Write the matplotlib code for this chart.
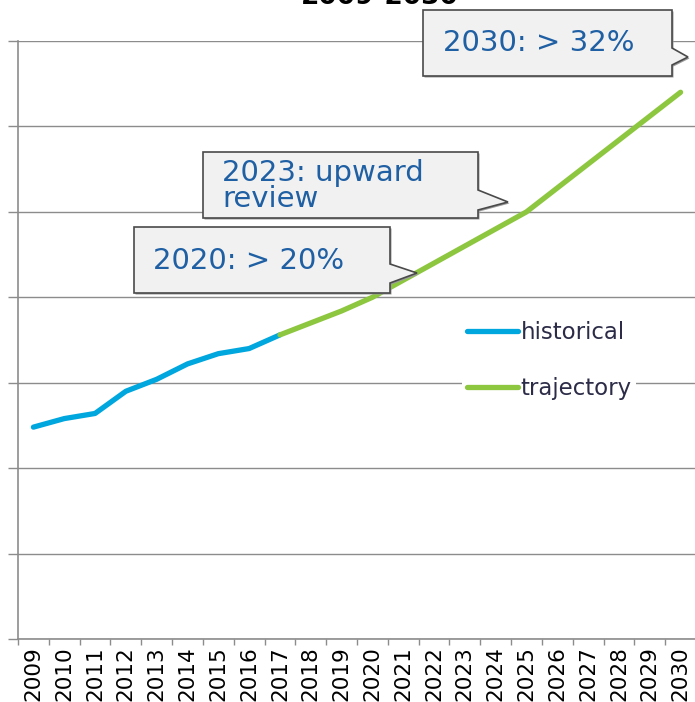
import matplotlib
matplotlib.use('Agg')
import matplotlib.pyplot as plt
import matplotlib.transforms as mtransforms
from matplotlib.patches import Polygon

# Datos
years = [str(y) for y in range(2009, 2031)]
hist_years = [str(y) for y in range(2009, 2018)]
hist_values = [12.4, 12.9, 13.2, 14.5, 15.2, 16.1, 16.7, 17.0, 17.8]
traj_years = [str(y) for y in range(2017, 2031)]
traj_values = [17.8, 18.5, 19.2, 20.0, 21.0, 22.0, 23.0, 24.0, 25.0,
               26.4, 27.8, 29.2, 30.6, 32.0]
callout_texts = ['2020: > 20%', '2023: upward\nreview', '2030: > 32%']

BLUE = '#00a6de'
GREEN = '#8dc63f'
TEXT_BLUE = '#1f5fa3'
GRID = '#8c8c8c'

W, H = 695, 702
fig = plt.figure(figsize=(W / 100, H / 100), dpi=100)
ax = fig.add_axes([18 / W, (H - 639) / H, 678 / W, 598 / H])

# transformacion en pixeles de la imagen (y hacia abajo)
px = mtransforms.Affine2D().scale(1 / W, -1 / H).translate(0, 1) + fig.transFigure

idx = {y: i for i, y in enumerate(years)}
ax.plot([idx[y] for y in hist_years], hist_values, color=BLUE, lw=3.8,
        solid_capstyle='round', label='historical', zorder=3)
ax.plot([idx[y] for y in traj_years], traj_values, color=GREEN, lw=3.8,
        solid_capstyle='round', label='trajectory', zorder=3)

ax.set_xlim(-0.5, len(years) - 0.5)
ax.set_ylim(0, 35)
ax.set_yticks(range(0, 36, 5))
ax.set_yticklabels([])
ax.yaxis.grid(True, color=GRID, lw=1.0)
ax.set_axisbelow(True)
ax.tick_params(axis='y', length=7.2, width=1.0, color=GRID, direction='out')

ax.set_xticks(range(len(years)))
ax.set_xticklabels(years, rotation=90, fontsize=15.5, color='black')
ax.set_xticks([i - 0.5 for i in range(len(years) + 1)], minor=True)
ax.tick_params(axis='x', which='major', length=0, pad=5)
ax.tick_params(axis='x', which='minor', length=4.5, width=1.0, color=GRID)

for s in ['top', 'right']:
    ax.spines[s].set_visible(False)
for s in ['left', 'bottom']:
    ax.spines[s].set_color(GRID)
    ax.spines[s].set_linewidth(1.2)

# Leyenda
leg = ax.legend(loc='upper left', bbox_to_anchor=(462, 316),
                bbox_transform=px, frameon=True, fontsize=16.5,
                handlelength=2.25, handletextpad=0.1, labelspacing=1.45,
                borderpad=0.2, borderaxespad=0)
leg.get_frame().set_facecolor('white')
leg.get_frame().set_edgecolor('none')
leg.get_frame().set_alpha(1)
for t in leg.get_texts():
    t.set_color('#2c2c48')

# Cajas de comentario (caja + punta)
boxes = [
    # x0, y0, x1, y1, punta arriba, punta abajo, punta x, punta y
    (134, 227, 390, 293, 264, 283, 417, 273),
    (203, 152, 478, 218, 190, 210, 508, 202),
    (423, 10, 672, 76, 48, 65, 688, 57),
]
text_pos = [(153, 261), (222, 186), (443, 43)]
for (x0, y0, x1, y1, pa, pb, tx, ty), txt, (lx, ly) in zip(boxes, callout_texts, text_pos):
    pts = [(x0, y0), (x1, y0), (x1, pa), (tx, ty), (x1, pb), (x1, y1), (x0, y1)]
    shadow = Polygon([(x + 1.5, y + 1.5) for x, y in pts], closed=True,
                     transform=px, facecolor='#9a9a9a', edgecolor='none',
                     zorder=9, clip_on=False)
    fig.add_artist(shadow)
    poly = Polygon(pts, closed=True, transform=px, facecolor='#f1f1f1',
                   edgecolor='#4a4a4a', lw=1.2, zorder=10, clip_on=False)
    fig.add_artist(poly)
    fig.text(lx, ly, txt, transform=px, fontsize=21, color=TEXT_BLUE,
             ha='left', va='center', linespacing=0.95, zorder=11)

# Titulo (cortado arriba)
fig.text(380, 4, '2009-2030', transform=px, fontsize=19, fontweight='bold',
         ha='center', va='baseline', color='black')

fig.savefig('out.png', dpi=100)
